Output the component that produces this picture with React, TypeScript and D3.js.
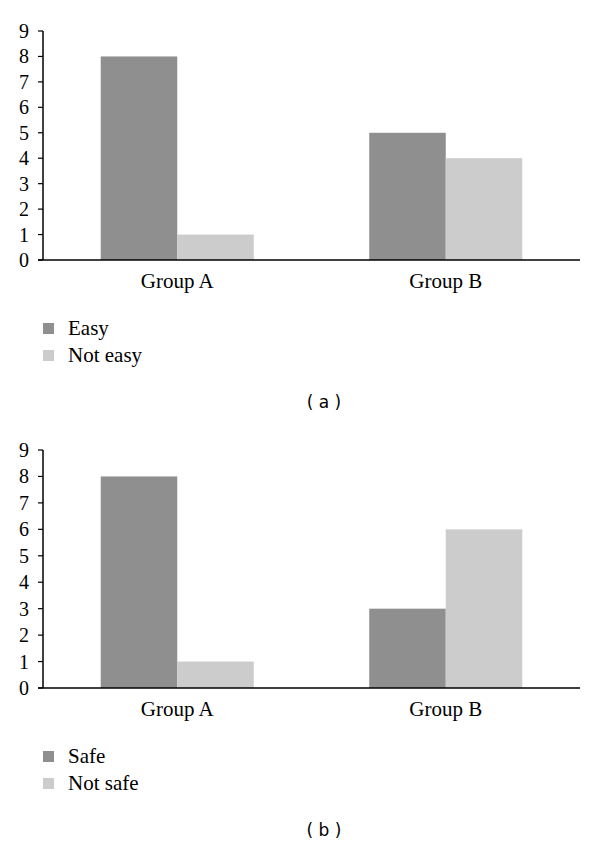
import React, { useEffect, useRef } from "react";
import * as d3 from "d3";

const groups = ["Group A", "Group B"];
const yTicks = [0, 1, 2, 3, 4, 5, 6, 7, 8, 9];

const easySeries = ["Easy", "Not easy"];
const easyValues = [
  [8, 1],
  [5, 4],
];

const safeSeries = ["Safe", "Not safe"];
const safeValues = [
  [8, 1],
  [3, 6],
];

const colors = ["#8f8f8f", "#cccccc"];
const serif = "'Liberation Serif', 'DejaVu Serif', serif";

type PanelProps = {
  top: number;
  bottom: number;
  series: string[];
  values: number[][];
  label: string;
};

const Panel = ({ top, bottom, series, values, label }: PanelProps) => {
  const ref = useRef<SVGGElement>(null);

  useEffect(() => {
    const g = d3.select(ref.current);
    g.selectAll("*").remove();

    const left = 43;
    const right = 580;

    const y = d3.scaleLinear().domain([0, 9]).range([bottom, top]);
    const x0 = d3.scaleBand().domain(groups).range([left, right]);
    const x1 = d3
      .scaleBand()
      .domain(series)
      .range([0, x0.bandwidth() * 0.57])
      .padding(0);
    const offset = (x0.bandwidth() - x0.bandwidth() * 0.57) / 2;

    // bars
    groups.forEach((grp, gi) => {
      series.forEach((s, si) => {
        const v = values[gi][si];
        g.append("rect")
          .attr("x", x0(grp)! + offset + x1(s)!)
          .attr("y", y(v))
          .attr("width", x1.bandwidth())
          .attr("height", bottom - y(v))
          .attr("fill", colors[si]);
      });
    });

    // y axis
    g.append("line")
      .attr("x1", left)
      .attr("x2", left)
      .attr("y1", y(9))
      .attr("y2", bottom)
      .attr("stroke", "#000")
      .attr("stroke-width", 1.5);
    yTicks.forEach((t) => {
      g.append("line")
        .attr("x1", left - 5)
        .attr("x2", left)
        .attr("y1", y(t))
        .attr("y2", y(t))
        .attr("stroke", "#000")
        .attr("stroke-width", 1.2);
      g.append("text")
        .attr("x", 29)
        .attr("y", y(t))
        .attr("dy", "0.35em")
        .attr("text-anchor", "end")
        .style("font-family", serif)
        .style("font-size", "20px")
        .text(t);
    });

    // x axis
    g.append("line")
      .attr("x1", left - 5)
      .attr("x2", right)
      .attr("y1", bottom)
      .attr("y2", bottom)
      .attr("stroke", "#000")
      .attr("stroke-width", 1.5);
    groups.forEach((grp) => {
      g.append("text")
        .attr("x", x0(grp)! + x0.bandwidth() / 2)
        .attr("y", bottom + 28)
        .attr("text-anchor", "middle")
        .style("font-family", serif)
        .style("font-size", "21px")
        .text(grp);
    });

    // legend
    series.forEach((s, si) => {
      const ly = bottom + 68 + si * 27;
      g.append("rect")
        .attr("x", 43)
        .attr("y", ly - 5)
        .attr("width", 11)
        .attr("height", 11)
        .attr("fill", colors[si]);
      g.append("text")
        .attr("x", 68)
        .attr("y", ly)
        .attr("dy", "0.35em")
        .style("font-family", serif)
        .style("font-size", "21px")
        .text(s);
    });

    g.append("text")
      .attr("x", 324)
      .attr("y", bottom + 148)
      .attr("text-anchor", "middle")
      .style("font-family", "'DejaVu Sans', sans-serif")
      .style("font-size", "17px")
      .text(label);
  }, [top, bottom, series, values, label]);

  return <g ref={ref} />;
};

export default function App() {
  return (
    <svg
      width={600}
      height={856}
      style={{ position: "absolute", left: 0, top: 0, background: "#fff" }}
    >
      <Panel top={31} bottom={260} series={easySeries} values={easyValues} label="( a )" />
      <Panel top={450} bottom={688} series={safeSeries} values={safeValues} label="( b )" />
    </svg>
  );
}
